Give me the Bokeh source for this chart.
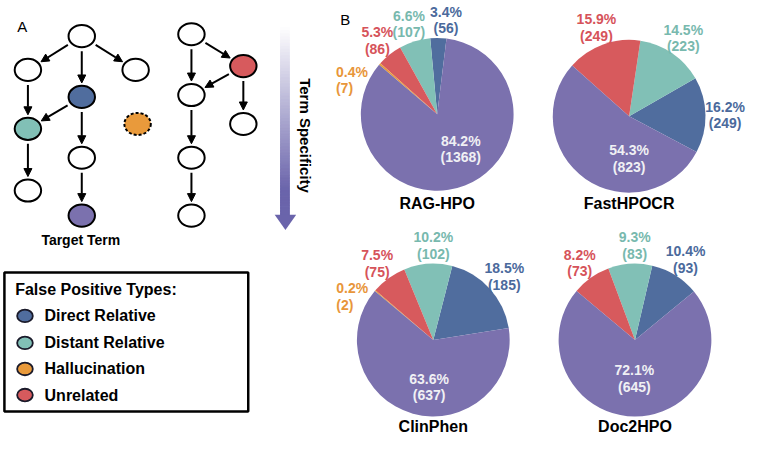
import math
import numpy as np
from bokeh.plotting import figure
from bokeh.models import Range1d, ColumnDataSource, Arrow, NormalHead
from bokeh.core.properties import value
from bokeh.embed import file_html
from bokeh.resources import INLINE

# ---------------- data ----------------
models = ["RAG-HPO", "FastHPOCR", "ClinPhen", "Doc2HPO"]
slice_types = ["Direct Relative", "Distant Relative", "Unrelated", "Hallucination", "Target Term"]
rag_pct = [3.4, 6.6, 5.3, 0.4, 84.2]
rag_cnt = [56, 107, 86, 7, 1368]
fast_pct = [16.2, 14.5, 15.9, 0.0, 54.3]
fast_cnt = [249, 223, 249, 0, 823]
clin_pct = [18.5, 10.2, 7.5, 0.2, 63.6]
clin_cnt = [185, 102, 75, 2, 637]
doc_pct = [10.4, 9.3, 8.2, 0.0, 72.1]
doc_cnt = [93, 83, 73, 0, 645]
legend_labels = ["Direct Relative", "Distant Relative", "Hallucination", "Unrelated"]

pcts = [rag_pct, fast_pct, clin_pct, doc_pct]
cnts = [rag_cnt, fast_cnt, clin_cnt, doc_cnt]

# ---------------- style / layout ----------------
FONT = value("Liberation Sans")
fill_col = {"Direct Relative": "#506d9e", "Distant Relative": "#81c0b6",
            "Unrelated": "#d75a5d", "Hallucination": "#e99a3b", "Target Term": "#7b71ae"}
text_col = {"Direct Relative": "#4b6a9c", "Distant Relative": "#78b9ae",
            "Unrelated": "#d6535a", "Hallucination": "#e8963a", "Target Term": "#f0f0f4"}

H = 452.0
def Y(y):
    return H - y

pie_cx = [446, 642, 442, 648]
pie_cy = [118, 120, 352, 352]
pie_r = 78
start_deg = [83, -28, 9, 39.5]
title_y = [210, 210, 442, 442]
out_dist = 98
# per-label angle nudge (deg) for outside labels, index by slice
nudges = [[-4.4, 0, 0, 20, 0], [0, 0, 0, 0, 0], [0, -4, 0, 13, 0], [0, -3.5, 0, 0, 0]]
inner_ang = [-56, -90, -95, -91]
inner_dist = [43, 44, 49, 40]

p = figure(width=752, height=436, x_range=Range1d(0, 768), y_range=Range1d(0, H),
           output_backend="svg", toolbar_location=None, min_border=0)
p.axis.visible = False
p.grid.visible = False
p.outline_line_color = None
p.background_fill_color = "white"

# ---------------- pies ----------------
for k in range(4):
    pc = pcts[k]
    tot = float(sum(pc))
    a0 = start_deg[k]
    xs, ys, sa, ea, cols = [], [], [], [], []
    lab_x, lab_y1, lab_y2, lab_t1, lab_t2, lab_c, lab_al = [], [], [], [], [], [], []
    for i, t in enumerate(slice_types):
        span = 360.0 * pc[i] / tot
        if span <= 0:
            continue
        a1 = a0 + span
        xs.append(pie_cx[k]); ys.append(Y(pie_cy[k]))
        sa.append(math.radians(a0)); ea.append(math.radians(a1))
        cols.append(fill_col[t])
        mid = (a0 + a1) / 2.0
        if t == "Target Term":
            ang = math.radians(inner_ang[k]); d = inner_dist[k]
        else:
            ang = math.radians(mid + nudges[k][i]); d = out_dist
        lx = pie_cx[k] + d * math.cos(ang)
        ly = pie_cy[k] - d * math.sin(ang)
        al = "center"
        if t == "Hallucination":
            al = "left"; lx -= 12
        lab_x.append(lx); lab_y1.append(Y(ly - 8.5)); lab_y2.append(Y(ly + 8.5))
        lab_t1.append(f"{pc[i]}%"); lab_t2.append(f"({cnts[k][i]})")
        lab_c.append(text_col[t]); lab_al.append(al)
        a0 = a1
    src = ColumnDataSource(dict(x=xs, y=ys, sa=sa, ea=ea, c=cols))
    p.wedge(x="x", y="y", radius=pie_r, start_angle="sa", end_angle="ea",
            fill_color="c", line_color=None, source=src)
    lsrc = ColumnDataSource(dict(x=lab_x, y1=lab_y1, y2=lab_y2, t1=lab_t1, t2=lab_t2,
                                 c=lab_c, al=lab_al))
    for yy, tt in (("y1", "t1"), ("y2", "t2")):
        p.text(x="x", y=yy, text=tt, text_color="c", text_align="al",
               text_baseline="middle", text_font=FONT, text_font_style="bold",
               text_font_size="14px", source=lsrc)
    p.text(x=[pie_cx[k]], y=[Y(title_y[k])], text=[models[k]], text_align="center",
           text_baseline="middle", text_font=FONT, text_font_style="bold",
           text_font_size="16px", text_color="black")

# ---------------- panel A diagram ----------------
node_x = [83, 28, 83, 138, 28, 83, 28, 83, 140, 195, 248, 195, 248, 195, 195]
node_y = [37, 72, 100, 72, 133, 163, 197, 223, 128, 35, 68, 98, 128, 163, 223]
node_kind = ["none", "none", "Direct Relative", "none", "Distant Relative", "none", "none",
             "Target Term", "Hallucination", "none", "Unrelated", "none", "none", "none", "none"]
edges = [(0, 1), (0, 2), (0, 3), (1, 4), (2, 4), (2, 5), (4, 6), (5, 7),
         (9, 10), (9, 11), (10, 11), (10, 12), (11, 13), (13, 14)]
RX, RY = 13.5, 11.5

solid = [i for i, k in enumerate(node_kind) if k != "Hallucination"]
dash = [i for i, k in enumerate(node_kind) if k == "Hallucination"]
nsrc = ColumnDataSource(dict(x=[node_x[i] for i in solid], y=[Y(node_y[i]) for i in solid],
                             c=["white" if node_kind[i] == "none" else fill_col[node_kind[i]] for i in solid]))
p.ellipse(x="x", y="y", width=2 * RX, height=2 * RY, fill_color="c", line_color="black",
          line_width=2, source=nsrc)
p.ellipse(x=[node_x[i] for i in dash], y=[Y(node_y[i]) for i in dash], width=2 * RX, height=2 * RY,
          fill_color=fill_col["Hallucination"], line_color="black", line_width=2, line_dash="3 2")

def rad(c, s):
    return RX * RY / math.sqrt((RY * c) ** 2 + (RX * s) ** 2)

ex0, ey0, ex1, ey1 = [], [], [], []
for a, b in edges:
    dx = node_x[b] - node_x[a]; dy = node_y[b] - node_y[a]
    L = math.hypot(dx, dy); c = dx / L; s = dy / L
    r = rad(c, s)
    ex0.append(node_x[a] + c * (r + 4)); ey0.append(Y(node_y[a] + s * (r + 4)))
    ex1.append(node_x[b] - c * (r + 3)); ey1.append(Y(node_y[b] - s * (r + 3)))
esrc = ColumnDataSource(dict(x0=ex0, y0=ey0, x1=ex1, y1=ey1))
p.add_layout(Arrow(x_start="x0", y_start="y0", x_end="x1", y_end="y1", source=esrc,
                   line_width=2, line_color="black",
                   end=NormalHead(size=8, fill_color="black", line_color="black", line_width=1)))

p.text(x=[82], y=[Y(248)], text=["Target Term"], text_align="center", text_baseline="middle",
       text_font=FONT, text_font_style="bold", text_font_size="14px", text_color="black")
p.text(x=[17], y=[Y(27)], text=["A"], text_align="left", text_baseline="middle",
       text_font=FONT, text_font_size="15px", text_color="black")
p.text(x=[347], y=[Y(20)], text=["B"], text_align="left", text_baseline="middle",
       text_font=FONT, text_font_size="15px", text_color="black")

# gradient arrow (Term Specificity)
ncol = 60
top, bot = 28.0, 223.0
edges_g = np.linspace(top, bot, ncol + 1)
c_end = np.array([0x6a, 0x64, 0xab])
gcols = []
for j in range(ncol):
    f = (j + 0.5) / ncol
    f = min(1.0, f * 1.15)
    rgb = (255 * (1 - f) + c_end * f).astype(int)
    gcols.append("#%02x%02x%02x" % tuple(rgb))
p.quad(left=286, right=295, top=[Y(v) for v in edges_g[:-1]], bottom=[Y(v) for v in edges_g[1:]],
       fill_color=gcols, line_color=gcols, line_width=1)
p.patch(x=[280, 302, 291], y=[Y(222), Y(222), Y(238)], fill_color="#6a64ab", line_color=None)
p.text(x=[311], y=[Y(140)], text=["Term Specificity"], angle=-math.pi / 2, text_align="center",
       text_baseline="middle", text_font=FONT, text_font_style="bold", text_font_size="15px",
       text_color="black")

# legend box
p.quad(left=[4], right=[253], top=[Y(282)], bottom=[Y(426)], fill_color=None,
       line_color="black", line_width=2.5)
p.text(x=[15], y=[Y(300)], text=["False Positive Types:"], text_align="left",
       text_baseline="middle", text_font=FONT, text_font_style="bold", text_font_size="16px",
       text_color="black")
leg_y = [327, 355, 382, 409]
lsrc2 = ColumnDataSource(dict(x=[25] * 4, y=[Y(v) for v in leg_y], tx=[45] * 4,
                              c=[fill_col[t] for t in legend_labels], t=legend_labels))
p.ellipse(x="x", y="y", width=16, height=13, fill_color="c", line_color="#1a1a2a",
          line_width=1.8, source=lsrc2)
p.text(x="tx", y="y", text="t", text_align="left", text_baseline="middle", text_font=FONT,
       text_font_style="bold", text_font_size="16px", text_color="black", source=lsrc2)

open("out.html", "w").write(file_html(p, INLINE))
